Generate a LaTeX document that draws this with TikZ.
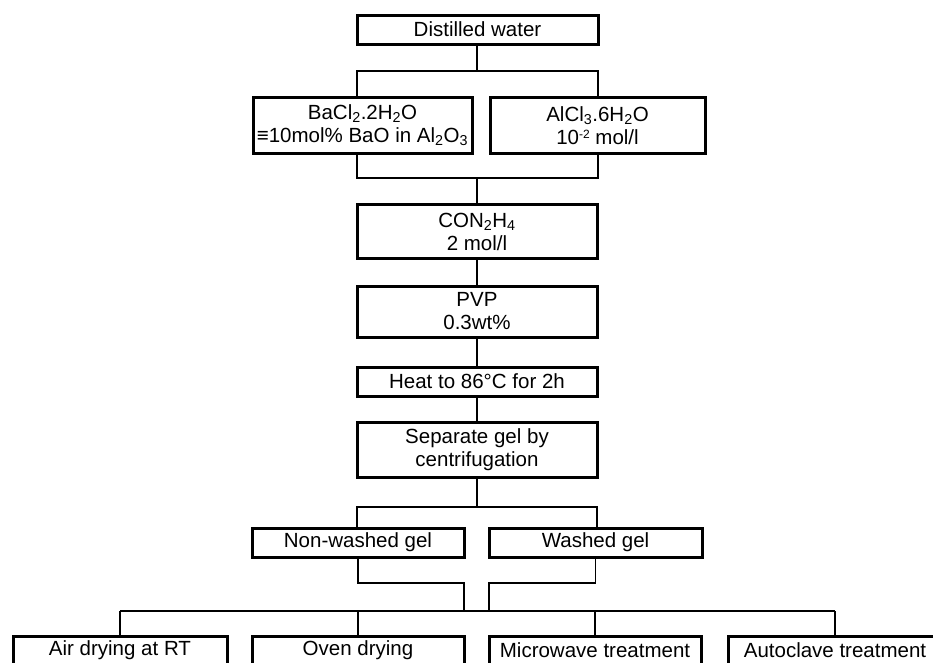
\documentclass[tikz,border=0pt]{standalone}
\usepackage{fontspec}
\setmainfont{Liberation Sans}

\begin{document}
\begin{tikzpicture}[x=1pt, y=-1pt,
    box/.style={draw, line width=3pt, inner sep=0pt, outer sep=0pt, align=center,
                font=\fontsize{20.5pt}{23pt}\selectfont},
    link/.style={line width=1.8pt}]

  % --- Frame ---
  \clip (0,0) rectangle (933,662);

  % --- Solutions ---
  \node[box, minimum width=241pt, minimum height=29pt] (water) at (477.5,29.5) {Distilled water};
  \node[box, minimum width=219pt, minimum height=56pt] (bacl) at (362.5,125.5)
    {BaCl\textsubscript{2}.2H\textsubscript{2}O\\ ≡10mol\% BaO in Al\textsubscript{2}O\textsubscript{3}};
  \node[box, minimum width=215pt, minimum height=56pt] (alcl) at (597.5,125.5)
    {AlCl\textsubscript{3}.6H\textsubscript{2}O\\
     10\raisebox{0.3em}{\fontsize{12pt}{12pt}\selectfont -2} mol/l};

  % --- Gel preparation ---
  \node[box, minimum width=240pt, minimum height=54pt] (con) at (477,231.5)
    {CON\textsubscript{2}H\textsubscript{4}\\ 2 mol/l};
  \node[box, minimum width=240pt, minimum height=51pt] (pvp) at (477,311.5) {PVP\\ 0.3wt\%};
  \node[box, minimum width=240pt, minimum height=29pt] (heat) at (477,381.5) {Heat to 86°C for 2h};
  \node[box, minimum width=240pt, minimum height=55pt] (sep) at (477,449.5)
    {Separate gel by\\ centrifugation};
  \node[box, minimum width=212pt, minimum height=29pt] (nonw) at (358,542.5) {Non-washed gel};
  \node[box, minimum width=213pt, minimum height=29pt] (wash) at (595.5,542.5) {Washed gel};

  % --- Drying ---
  \foreach \nm/\cx/\bw/\txt in {air/120/214/Air drying at RT, oven/358/212/Oven drying,
      micro/595/212/Microwave treatment, auto/835/214/Autoclave treatment} {
    \node[box, minimum width=\bw pt, minimum height=29pt] (\nm) at (\cx,650.5) {\txt};
  }

  % --- Connectors ---
  \coordinate (j1) at (477,71);
  \coordinate (j2) at (477,178);
  \coordinate (j3) at (477,507);
  \coordinate (j4) at (477,583);
  \coordinate (jb) at (477,611);

  \draw[link] (water.south -| j1) -- (j1);
  \draw[link] (bacl.north -| water.west) |- (j1) -| (alcl.north -| water.east);
  \draw[link] (bacl.south -| water.west) |- (j2) -| (alcl.south -| water.east);
  \draw[link] (j2) -- (con.north);
  \draw[link] (con.south) -- (pvp.north);
  \draw[link] (pvp.south) -- (heat.north);
  \draw[link] (heat.south) -- (sep.north);
  \draw[link] (sep.south) -- (j3);
  \draw[link] (nonw.north -| sep.west) |- (j3) -| (wash.north -| sep.east);
  \draw[link] (nonw.south) |- (j4 -| nonw.east) -- (nonw.east |- jb);
  \draw[link] (wash.south) |- (j4 -| wash.west) -- (wash.west |- jb);
  \draw[link] (air.north |- jb) -- (auto.north |- jb);
  \foreach \nm in {air,oven,micro,auto} {
    \draw[link] (\nm.north |- jb) -- (\nm.north);
  }

\end{tikzpicture}
\end{document}
